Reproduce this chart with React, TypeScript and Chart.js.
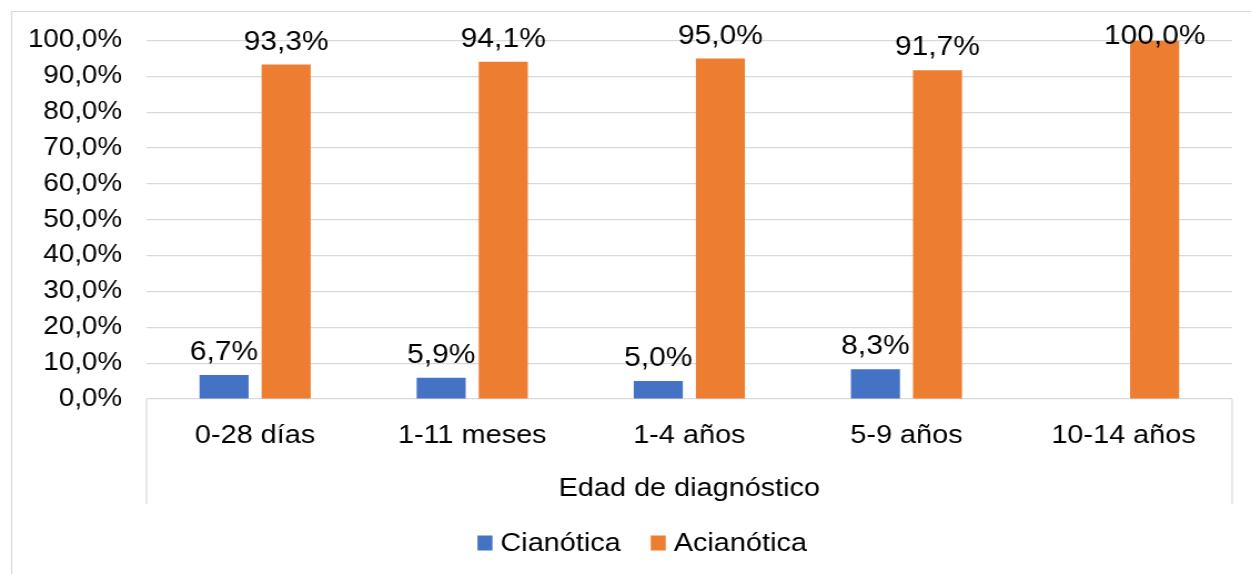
import React, { useEffect, useRef } from 'react';
import { Chart, registerables } from 'chart.js';

Chart.register(...registerables);

// ---- data ----
const categories = ['0-28 días', '1-11 meses', '1-4 años', '5-9 años', '10-14 años'];
const seriesNames = ['Cianótica', 'Acianótica'];
const cianotica: (number | null)[] = [6.7, 5.9, 5.0, 8.3, null];
const acianotica: (number | null)[] = [93.3, 94.1, 95.0, 91.7, 100.0];
const yMin = 0;
const yMax = 100;
const yStep = 10;
const xAxisTitle = 'Edad de diagnóstico';

// ---- styles ----
const SX = 1.11; // horizontal stretch of the reference picture
const CSS_W = 1251;
const CSS_H = 574;
const W = Math.round(CSS_W / SX);
const H = CSS_H;
const FONT = '"Liberation Sans", Arial, sans-serif';
const GRID = '#d9d9d9';
const TEXT = '#000000';
const BLUE = '#4472C4';
const ORANGE = '#ED7D31';

const fmt = (v: number) => v.toFixed(1).replace('.', ',') + '%';

const framePlugin = {
  id: 'frame',
  beforeDraw(chart: any) {
    const { ctx, chartArea } = chart;
    const xScale = chart.scales.x;
    ctx.save();
    ctx.strokeStyle = GRID;
    ctx.lineWidth = 1.2;
    ctx.beginPath();
    ctx.moveTo(10.5, chart.height + 5);
    ctx.lineTo(10.5, 11.5);
    ctx.lineTo(chart.width + 5, 11.5);
    ctx.stroke();
    ctx.beginPath();
    ctx.moveTo(chartArea.left, chartArea.bottom);
    ctx.lineTo(chartArea.left, xScale.bottom);
    ctx.moveTo(chartArea.right, chartArea.bottom);
    ctx.lineTo(chartArea.right, xScale.bottom);
    ctx.stroke();
    ctx.restore();
  },
};

const labelPlugin = {
  id: 'barLabels',
  afterDatasetsDraw(chart: any) {
    const { ctx, chartArea } = chart;
    ctx.save();
    ctx.font = `27px ${FONT}`;
    ctx.fillStyle = TEXT;
    ctx.textAlign = 'center';
    ctx.textBaseline = 'alphabetic';
    chart.data.datasets.forEach((ds: any, di: number) => {
      const meta = chart.getDatasetMeta(di);
      meta.data.forEach((el: any, i: number) => {
        const v = ds.data[i];
        if (v === null || v === undefined) return;
        const y = Math.max(el.y - 15, chartArea.top + 3.5);
        ctx.fillText(fmt(v), el.x, y);
      });
    });
    ctx.restore();
  },
};

const legendPlugin = {
  id: 'customLegend',
  afterDraw(chart: any) {
    const { ctx } = chart;
    ctx.save();
    ctx.font = `26px ${FONT}`;
    const box = 13.5;
    const gap = 7.2;
    const itemGap = 27;
    const items = chart.data.datasets.map((ds: any) => ({
      label: ds.label as string,
      color: ds.backgroundColor as string,
      w: ctx.measureText(ds.label).width,
    }));
    const total =
      items.reduce((s: number, it: any) => s + box + gap + it.w, 0) + itemGap * (items.length - 1);
    let x = chart.width / 2 + 15 - total / 2;
    const cy = chart.height - 30;
    ctx.textBaseline = 'middle';
    ctx.textAlign = 'left';
    items.forEach((it: any) => {
      ctx.fillStyle = it.color;
      ctx.fillRect(x, cy - 8.5, box, 15);
      x += box + gap;
      ctx.fillStyle = TEXT;
      ctx.fillText(it.label, x, cy);
      x += it.w + itemGap;
    });
    ctx.restore();
  },
};

export default function App() {
  const ref = useRef<HTMLCanvasElement | null>(null);

  useEffect(() => {
    if (!ref.current) return;
    const chart = new Chart(ref.current, {
      type: 'bar',
      data: {
        labels: categories,
        datasets: [
          {
            label: seriesNames[0],
            data: cianotica,
            backgroundColor: BLUE,
            categoryPercentage: 0.572,
            barPercentage: 0.79,
          },
          {
            label: seriesNames[1],
            data: acianotica,
            backgroundColor: ORANGE,
            categoryPercentage: 0.572,
            barPercentage: 0.79,
          },
        ],
      },
      options: {
        animation: false,
        responsive: false,
        devicePixelRatio: 1,
        layout: { padding: { top: 40.5, right: 17, bottom: 70, left: 0 } },
        plugins: {
          legend: { display: false },
          tooltip: { enabled: false },
          title: { display: false },
        },
        scales: {
          x: {
            grid: { display: false, drawTicks: false },
            border: { display: false },
            ticks: {
              font: { family: FONT, size: 26 },
              color: TEXT,
              padding: 21,
              maxRotation: 0,
              autoSkip: false,
            },
            title: {
              display: true,
              text: xAxisTitle,
              font: { family: FONT, size: 26 },
              color: TEXT,
              padding: { top: 23, bottom: 0 },
            },
            afterFit(scale: any) {
              scale.height = 105;
            },
          },
          y: {
            min: yMin,
            max: yMax,
            grid: { color: GRID, lineWidth: 1.2, drawTicks: false },
            border: { display: false },
            ticks: {
              stepSize: yStep,
              font: { family: FONT, size: 25 },
              color: TEXT,
              padding: 22,
              callback: (v: any) => fmt(Number(v)),
            },
            afterFit(scale: any) {
              scale.width = 132;
            },
          },
        },
      },
      plugins: [framePlugin, labelPlugin, legendPlugin],
    });
    return () => chart.destroy();
  }, []);

  return (
    <canvas
      ref={ref}
      width={W}
      height={H}
      style={{ position: 'absolute', left: 0, top: 0, width: `${CSS_W}px`, height: `${CSS_H}px` }}
    />
  );
}
